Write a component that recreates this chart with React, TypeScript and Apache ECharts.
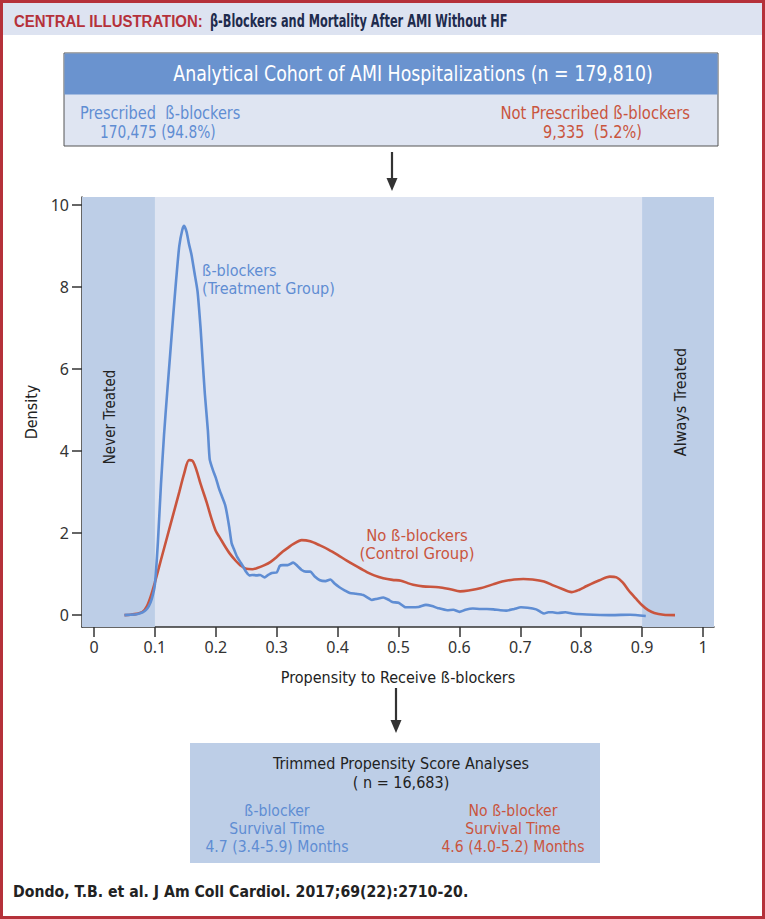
import React, { useEffect, useRef } from "react";
import * as echarts from "echarts";

const xTicks = [0, 0.1, 0.2, 0.3, 0.4, 0.5, 0.6, 0.7, 0.8, 0.9, 1];
const yTicks = [0, 2, 4, 6, 8, 10];
const trimBounds = [0.1, 0.9];

const treatmentCurve: [number, number][] = [
  [0.05, 0], [0.06, 0.01], [0.07, 0.02], [0.08, 0.07], [0.085, 0.12], [0.09, 0.22], [0.095, 0.4],
  [0.1, 0.75], [0.105, 1.8], [0.11, 3.2], [0.115, 4.4], [0.12, 5.4], [0.125, 6.35], [0.13, 7.3],
  [0.135, 8.2], [0.14, 9.0], [0.145, 9.4], [0.148, 9.5], [0.152, 9.35], [0.156, 9.05], [0.16, 8.8],
  [0.165, 8.35], [0.17, 7.9], [0.175, 7.0], [0.178, 6.3], [0.182, 5.4], [0.187, 4.5], [0.19, 3.8],
  [0.195, 3.55], [0.2, 3.35], [0.205, 3.1], [0.21, 2.9], [0.215, 2.7], [0.218, 2.5], [0.222, 2.15],
  [0.226, 1.75], [0.23, 1.6], [0.235, 1.42], [0.24, 1.3], [0.245, 1.18], [0.25, 1.05], [0.255, 0.97],
  [0.26, 0.98], [0.267, 0.97], [0.273, 0.98], [0.28, 0.92], [0.286, 0.98], [0.292, 1.03], [0.3, 1.04],
  [0.305, 1.2], [0.31, 1.22], [0.318, 1.22], [0.327, 1.28], [0.334, 1.2], [0.341, 1.1], [0.348, 1.06],
  [0.355, 1.06], [0.362, 0.95], [0.371, 0.85], [0.38, 0.83], [0.388, 0.87], [0.395, 0.77], [0.403, 0.68],
  [0.412, 0.6], [0.42, 0.54], [0.43, 0.52], [0.442, 0.49], [0.45, 0.42], [0.456, 0.37], [0.465, 0.4],
  [0.475, 0.43], [0.483, 0.38], [0.49, 0.32], [0.5, 0.3], [0.51, 0.2], [0.52, 0.19], [0.533, 0.2],
  [0.545, 0.25], [0.555, 0.22], [0.565, 0.17], [0.58, 0.12], [0.59, 0.13], [0.6, 0.08], [0.61, 0.13],
  [0.622, 0.16], [0.635, 0.15], [0.645, 0.15], [0.656, 0.14], [0.667, 0.12], [0.677, 0.11], [0.69, 0.15],
  [0.701, 0.19], [0.712, 0.18], [0.726, 0.14], [0.733, 0.08], [0.739, 0.04], [0.746, 0.07], [0.753, 0.07],
  [0.762, 0.05], [0.774, 0.07], [0.785, 0.04], [0.802, 0.02], [0.82, 0.01], [0.85, 0.0], [0.88, 0.01],
  [0.906, -0.02],
];

const controlCurve: [number, number][] = [
  [0.05, 0], [0.06, 0.01], [0.07, 0.03], [0.08, 0.08], [0.087, 0.22], [0.093, 0.45], [0.1, 0.8],
  [0.11, 1.35], [0.12, 1.9], [0.13, 2.45], [0.14, 3.0], [0.148, 3.45], [0.156, 3.78],
  [0.162, 3.76], [0.168, 3.55], [0.175, 3.2], [0.185, 2.75], [0.193, 2.35], [0.2, 2.05], [0.207, 1.88],
  [0.215, 1.68], [0.223, 1.5], [0.233, 1.32], [0.24, 1.22], [0.25, 1.13], [0.26, 1.12], [0.268, 1.15],
  [0.28, 1.22], [0.29, 1.3], [0.3, 1.42], [0.31, 1.55], [0.32, 1.66], [0.327, 1.73], [0.341, 1.83],
  [0.355, 1.8], [0.371, 1.7], [0.385, 1.6], [0.4, 1.47], [0.415, 1.33], [0.43, 1.2], [0.448, 1.05],
  [0.46, 0.97], [0.475, 0.9], [0.49, 0.86], [0.504, 0.84], [0.515, 0.78], [0.524, 0.74], [0.54, 0.7],
  [0.566, 0.68], [0.585, 0.63], [0.601, 0.58], [0.615, 0.6], [0.636, 0.66], [0.655, 0.75], [0.67, 0.82],
  [0.69, 0.87], [0.705, 0.88], [0.72, 0.87], [0.739, 0.82], [0.755, 0.72], [0.767, 0.65], [0.784, 0.56],
  [0.797, 0.62], [0.809, 0.71], [0.83, 0.85], [0.847, 0.94], [0.858, 0.92], [0.868, 0.8], [0.878, 0.6],
  [0.89, 0.4], [0.9, 0.24], [0.91, 0.12], [0.92, 0.05], [0.935, 0.01], [0.954, 0],
];

const BLUE = "#5f8dd3";
const RED = "#c9553e";
const NAVY = "#1e2b4d";
const BAND = "#bdcee7";
const LIGHT = "#dfe5f2";
const COND = "'DejaVu Sans Condensed', 'Liberation Sans Narrow', sans-serif";
const SANS = "'Noto Sans', 'Open Sans', sans-serif";

function arrow(x: number, y1: number, y2: number) {
  return [
    { type: "line", shape: { x1: x, y1, x2: x, y2: y2 - 10 }, style: { stroke: "#333", lineWidth: 2.2 } },
    { type: "polygon", shape: { points: [[x - 5.5, y2 - 13], [x + 5.5, y2 - 13], [x, y2]] }, style: { fill: "#333" } },
  ];
}

function txt(text: string, x: number, y: number, fill: string, font: string, align = "left", scaleX = 1, extra: any = {}) {
  return { type: "text", x, y, scaleX, z: 10, ...extra, style: { text, fill, font, align, verticalAlign: "middle" } };
}

export default function App() {
  const ref = useRef<HTMLDivElement>(null);
  useEffect(() => {
    if (!ref.current) return;
    const chart = echarts.init(ref.current, undefined, { renderer: "svg" });
    const option: any = {
      animation: false,
      backgroundColor: "#ffffff",
      grid: {
        left: 82, top: 197, width: 632, height: 430,
        show: true, backgroundColor: LIGHT, borderWidth: 0,
      },
      xAxis: {
        type: "value", min: -0.0197, max: 1.018,
        splitLine: { show: false },
        axisLine: { onZero: false, lineStyle: { color: "#333", width: 1.5 } },
        axisTick: { show: true, length: 10, customValues: xTicks, lineStyle: { color: "#333", width: 1.5 } },
        axisLabel: { customValues: xTicks, margin: 12, fontSize: 16, color: "#333", fontFamily: SANS, formatter: (v: number) => String(Math.round(v * 10) / 10) },
        name: "Propensity to Receive ß-blockers",
        nameLocation: "middle", nameGap: 42,
        nameTextStyle: { fontSize: 16, color: "#222", fontFamily: COND },
      },
      yAxis: {
        type: "value", min: -0.29, max: 10.2,
        splitLine: { show: false },
        axisLine: { show: true, onZero: false, lineStyle: { color: "#333", width: 1.5 } },
        axisTick: { show: true, length: 10, customValues: yTicks, lineStyle: { color: "#333", width: 1.5 } },
        axisLabel: { customValues: yTicks, margin: 13, fontSize: 16, color: "#333", fontFamily: SANS },
        name: "Density",
        nameLocation: "middle", nameGap: 37,
        nameTextStyle: { fontSize: 16, color: "#222", fontFamily: COND },
      },
      series: [
        {
          type: "line", data: [], silent: true,
          markArea: {
            silent: true,
            itemStyle: { color: BAND },
            data: [
              [{ xAxis: "min" }, { xAxis: trimBounds[0] }],
              [{ xAxis: trimBounds[1] }, { xAxis: "max" }],
            ],
          },
        },
        {
          name: "No ß-blockers", type: "line", data: controlCurve, showSymbol: false, smooth: 0.3,
          lineStyle: { color: RED, width: 2.6 }, z: 3,
        },
        {
          name: "ß-blockers", type: "line", data: treatmentCurve, showSymbol: false, smooth: 0.2,
          lineStyle: { color: BLUE, width: 2.6 }, z: 4,
        },
      ],
      graphic: [
        { type: "rect", shape: { x: 0, y: 0, width: 765, height: 35 }, style: { fill: "#dde3f1" } },
        txt("CENTRAL ILLUSTRATION:", 14, 21, "#b5313a", "bold 17px 'Liberation Sans', sans-serif", "left", 0.88),
        txt("β-Blockers and Mortality After AMI Without HF", 210, 21, NAVY, "bold 18px " + COND, "left", 0.7),

        { type: "rect", shape: { x: 64, y: 53, width: 654, height: 93 }, style: { fill: LIGHT, stroke: "#555", lineWidth: 1 } },
        { type: "rect", shape: { x: 64.5, y: 53.5, width: 653, height: 41 }, style: { fill: "#6a93cf" } },
        txt("Analytical Cohort of AMI Hospitalizations (n = 179,810)", 413, 74, "#fff", "21px " + COND, "center", 0.92),
        txt("Prescribed  ß-blockers", 80, 113, BLUE, "17px " + COND, "left", 0.95),
        txt("170,475 (94.8%)", 100, 132, BLUE, "17px " + COND, "left", 0.9),
        txt("Not Prescribed ß-blockers", 690, 113, RED, "17px " + COND, "right", 0.97),
        txt("9,335  (5.2%)", 642, 132, RED, "17px " + COND, "right", 0.95),

        ...arrow(392, 152, 191),

        txt("ß-blockers", 202, 271, BLUE, "15px " + COND, "left", 1.07),
        txt("(Treatment Group)", 202, 289, BLUE, "15px " + COND, "left", 1.07),
        txt("No ß-blockers", 417, 536, RED, "15px " + COND, "center", 1.1),
        txt("(Control Group)", 417, 554, RED, "15px " + COND, "center", 1.1),
        txt("Never Treated", 110, 417, "#222", "15px " + COND, "center", 1, { rotation: Math.PI / 2 }),
        txt("Always Treated", 680, 402, "#222", "16px " + COND, "center", 1, { rotation: Math.PI / 2 }),

        ...arrow(396, 688, 733),

        { type: "rect", shape: { x: 190, y: 743, width: 410, height: 120 }, style: { fill: BAND } },
        txt("Trimmed Propensity Score Analyses", 401, 763, "#222", "16px " + COND, "center"),
        txt("( n = 16,683)", 401, 782, "#222", "16px " + COND, "center"),
        txt("ß-blocker", 277, 811, BLUE, "15px " + COND, "center", 1.04),
        txt("Survival Time", 277, 829, BLUE, "15px " + COND, "center", 1.04),
        txt("4.7 (3.4-5.9) Months", 277, 847, BLUE, "15px " + COND, "center", 1.04),
        txt("No ß-blocker", 513, 811, RED, "15px " + COND, "center", 1.04),
        txt("Survival Time", 513, 829, RED, "15px " + COND, "center", 1.04),
        txt("4.6 (4.0-5.2) Months", 513, 847, RED, "15px " + COND, "center", 1.04),

        txt("Dondo, T.B. et al. J Am Coll Cardiol. 2017;69(22):2710-20.", 13, 891, "#222", "bold 16px " + COND, "left", 0.98),

        { type: "rect", z: 100, shape: { x: 1.5, y: 1.5, width: 762, height: 916 }, style: { fill: "none", stroke: "#b5313a", lineWidth: 3 } },
      ],
    };
    chart.setOption(option);
    return () => chart.dispose();
  }, []);
  return <div ref={ref} style={{ position: "absolute", left: 0, top: 0, width: 765, height: 919 }} />;
}
